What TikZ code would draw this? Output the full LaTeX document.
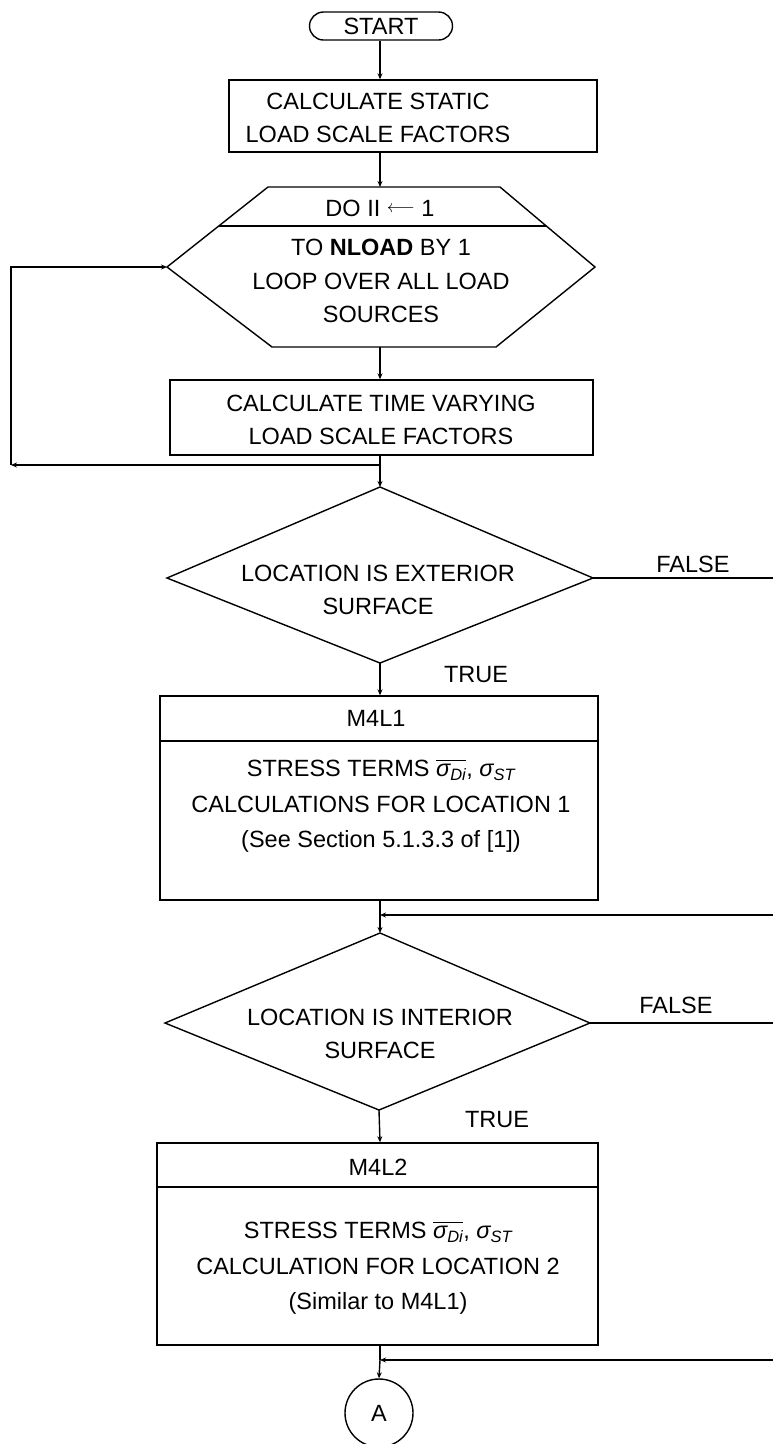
\documentclass[tikz,border=0pt]{standalone}
\usepackage{amsmath}
\usepackage{fontspec}
\setmainfont{Liberation Sans}
\usetikzlibrary{arrows.meta}

% sigma with italic subscript, set in the text face
\newcommand\sgm[1]{\text{\itshape σ}_{\text{\itshape #1}}}

\tikzset{
  flow/.style={line width=1.4pt, draw=black, line join=miter},
  arr/.style={flow, -{Stealth[length=6pt,width=5pt]}},
  boxshape/.style={flow, rectangle, inner sep=0pt},
  txt/.style={align=center, inner sep=0pt, font=\fontsize{23.5}{33.5}\selectfont},
  txtb/.style={align=center, inner sep=0pt, font=\fontsize{23.5}{35.5}\selectfont},
  lbl/.style={inner sep=0pt, font=\fontsize{23.5}{27}\selectfont},
  terminal/.style={flow, rectangle, rounded corners=14pt, minimum width=143pt,
                   minimum height=28pt, inner sep=0pt, font=\fontsize{23.5}{27}\selectfont},
  conn/.style={flow, circle, minimum size=68pt, inner sep=0pt, font=\fontsize{23.5}{27}\selectfont}
}

\begin{document}
\begin{tikzpicture}[x=1pt,y=-1pt]
\useasboundingbox (0,0) rectangle (773,1444);
\coordinate (axis) at (380,0);

% start terminal and static factors
\node[terminal] (start) at (381,26) {START};
\node[boxshape, minimum width=368pt, minimum height=72pt] (static) at (413,116) {};
\node[txt] (staticT) at (378,118) {CALCULATE STATIC\\LOAD SCALE FACTORS};

% DO-loop hexagon
\coordinate (hTL) at (268,187);
\coordinate (hTR) at (500,187);
\coordinate (hR)  at (595,267);
\coordinate (hBR) at (496,347);
\coordinate (hBL) at (272,347);
\coordinate (hL)  at (167,267);
\coordinate (hDL) at (219,226);
\coordinate (hDR) at (546,226);
\draw[flow] (hTL) -- (hTR) -- (hR) -- (hBR) -- (hBL) -- (hL) -- cycle;
\draw[flow] (hDL) -- (hDR);
\node[lbl] (doT) at (380,208) {DO II \raisebox{0.25ex}{\scalebox{0.7}{$\longleftarrow$}} 1};
\node[txt] (loopT) at (381,281) {TO \textbf{NLOAD} BY 1\\LOOP OVER ALL LOAD\\SOURCES};

% time varying factors
\node[boxshape, minimum width=423pt, minimum height=75pt] (varying) at (381.5,417.5) {};
\node[txt] (varyingT) at (381,420) {CALCULATE TIME VARYING\\LOAD SCALE FACTORS};

% exterior decision
\coordinate (d1T) at (380,487);
\coordinate (d1L) at (167,578);
\coordinate (d1R) at (593,578);
\coordinate (d1B) at (380,663);
\draw[flow] (d1T) -- (d1R) -- (d1B) -- (d1L) -- cycle;
\node[txt] (d1Text) at (378,590) {LOCATION IS EXTERIOR\\SURFACE};
\node[lbl] (false1) at (693,564) {FALSE};
\node[lbl] (true1) at (476,675) {TRUE};

% M4L1
\node[boxshape, minimum width=438pt, minimum height=204pt] (m4l1) at (379,798) {};
\coordinate (dv1) at (0,741);
\draw[flow] (m4l1.west |- dv1) -- (m4l1.east |- dv1);
\node[lbl] (m4l1T) at (376,718) {M4L1};
\node[txtb] (m4l1B) at (381,806) {STRESS TERMS $\overline{\sgm{Di}}$, $\sgm{ST}$\\CALCULATIONS FOR LOCATION 1\\(See Section 5.1.3.3 of [1])};

% interior decision
\coordinate (d2T) at (380,933);
\coordinate (d2L) at (165,1023);
\coordinate (d2R) at (590,1023);
\coordinate (d2B) at (379,1110);
\draw[flow] (d2T) -- (d2R) -- (d2B) -- (d2L) -- cycle;
\node[txt] (d2Text) at (380,1034) {LOCATION IS INTERIOR\\SURFACE};
\node[lbl] (false2) at (676,1005) {FALSE};
\node[lbl] (true2) at (497,1120) {TRUE};

% M4L2
\node[boxshape, minimum width=441pt, minimum height=202pt] (m4l2) at (377.5,1244) {};
\coordinate (dv2) at (0,1187);
\draw[flow] (m4l2.west |- dv2) -- (m4l2.east |- dv2);
\node[lbl] (m4l2T) at (378,1167) {M4L2};
\node[txtb] (m4l2B) at (378,1268) {STRESS TERMS $\overline{\sgm{Di}}$, $\sgm{ST}$\\CALCULATION FOR LOCATION 2\\(Similar to M4L1)};

% off-page connector
\node[conn] (A) at (379,1413) {A};

% junctions and edge ends
\coordinate (j0) at (380,465);
\coordinate (lc) at (11,465);
\coordinate (e1) at (773,578);
\coordinate (r1) at (773,915);
\coordinate (j1) at (380,915);
\coordinate (e2) at (773,1023);
\coordinate (r2) at (773,1360);
\coordinate (j2) at (380,1360);

% main flow
\draw[arr] (start.south -| axis) -- (axis |- static.north);
\draw[arr] (axis |- static.south) -- (hTL -| axis);
\draw[arr] (hBL -| axis) -- (axis |- varying.north);
\draw[flow] (axis |- varying.south) -- (j0);
\draw[arr] (j0) -- (d1T);
\draw[arr] (d1B) -- (axis |- m4l1.north);
\draw[flow] (axis |- m4l1.south) -- (j1);
\draw[arr] (j1) -- (d2T);
\draw[arr] (d2B) -- (axis |- m4l2.north);
\draw[flow] (axis |- m4l2.south) -- (j2);
\draw[arr] (j2) -- (A.north);

% loop back
\draw[arr] (j0) -- (lc);
\draw[arr] (lc) |- (hL);

% false branches and returns
\draw[flow] (d1R) -- (e1);
\draw[arr] (r1) -- (j1);
\draw[flow] (d2R) -- (e2);
\draw[arr] (r2) -- (j2);
\end{tikzpicture}
\end{document}
